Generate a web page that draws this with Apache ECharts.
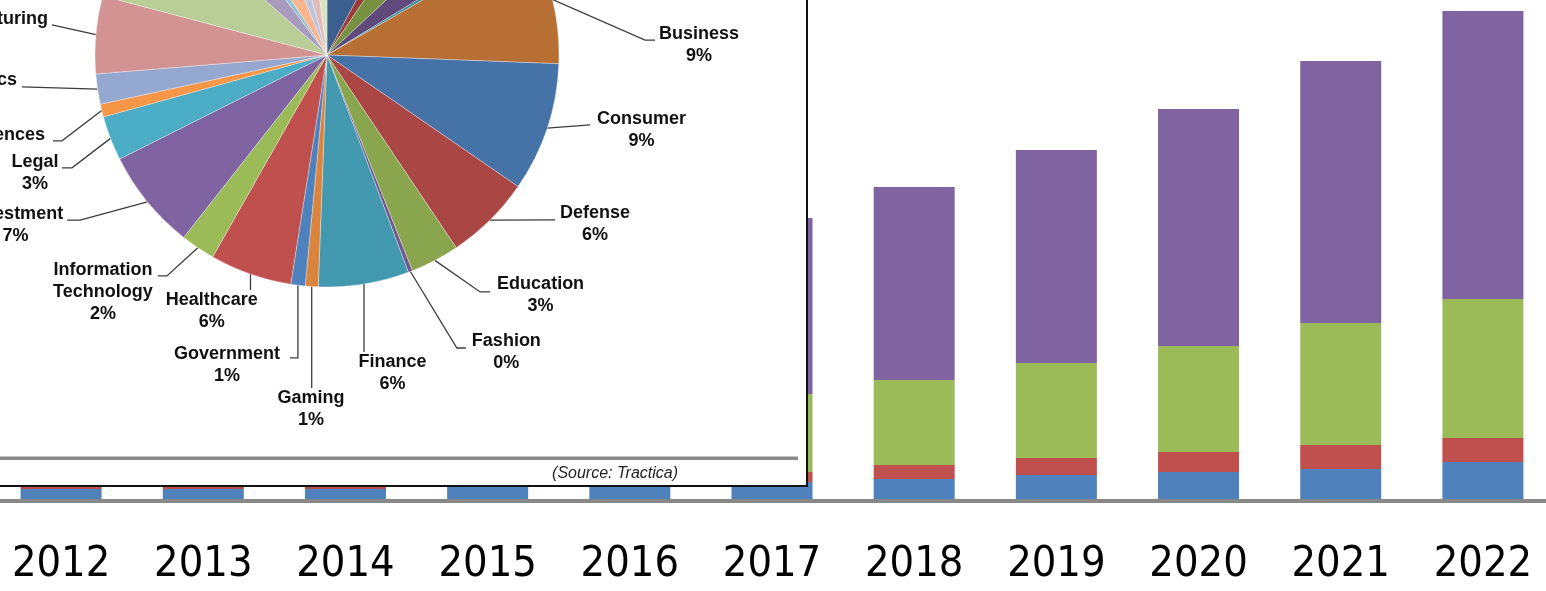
<!DOCTYPE html>
<html>
<head>
<meta charset="utf-8">
<script src="https://cdn.jsdelivr.net/npm/echarts@6.0.0/dist/echarts.min.js"></script>
<style>
  html, body { margin: 0; padding: 0; background: #ffffff; overflow: hidden; width: 1546px; height: 591px; }
  /* the plot runs slightly past both window edges, as the first and last bars do */
  #chart { width: 1564px; height: 591px; margin-left: -10px; }
</style>
</head>
<body>
<div id="chart"></div>
<script>
// ---- Stacked bars: yearly revenue, four stacked segments (bottom to top) ----
const YEARS = ['2012', '2013', '2014', '2015', '2016', '2017', '2018', '2019', '2020', '2021', '2022'];
const SEG_BLUE   = [120, 120, 120, 160, 175, 190, 220, 260, 290, 320, 390];
const SEG_RED    = [50, 55, 60, 70, 85, 100, 140, 170, 200, 240, 240];
const SEG_GREEN  = [150, 200, 280, 400, 560, 780, 850, 950, 1060, 1220, 1390];
const SEG_PURPLE = [400, 550, 750, 1000, 1350, 1760, 1930, 2130, 2370, 2620, 2880];

// ---- Pie: share of revenue by industry (%), clockwise from 12 o'clock ----
const SECTORS = [
  'Advertising', 'Aerospace', 'Agriculture', 'Automotive', 'Banking',
  'Business', 'Consumer', 'Defense', 'Education', 'Fashion', 'Finance',
  'Gaming', 'Government', 'Healthcare', 'Information Technology', 'Investment',
  'Legal', 'Life Sciences', 'Logistics', 'Manufacturing',
  'Media', 'Oil & Gas', 'Public Safety', 'Retail', 'Telecommunications',
  'Transportation', 'Utilities'
];
const SHARES = [
  7.8, 1.7, 3.6, 3.2, 0.4,
  8.9, 9.0, 6.0, 3.4, 0.3, 6.3,
  0.9, 1.0, 5.7, 2.4, 7.0,
  3.1, 0.9, 2.1, 5.4,
  7.45, 3.25, 1.05, 3.1, 1.8,
  2.2, 2.05
];

// Slice colours (same order as SECTORS)
const SLICE_COLORS = [
  '#3b5f8f', '#9a3d3a', '#76913f', '#604a7b', '#3a8aa0',
  '#b86f33', '#4572a7', '#aa4643', '#89a54e', '#71588f', '#4198af',
  '#db843d', '#4f81bd', '#c0504d', '#9bbb59', '#8064a2',
  '#4bacc6', '#f79646', '#95a9d0', '#d29392',
  '#b9cd96', '#a99bbd', '#91c3d5', '#f9b58f', '#b8c6e1',
  '#e1bcbb', '#d7e4bd'
];

// Leader-line bends and label-block centres, relative to the point where
// the leader leaves the slice edge (labels not listed fall outside the view).
const LABEL_SPOTS = {
  'Business':               { line: [[92.8, 40.7], [102.8, 40.7]],   text: [146.8, 45.7] },
  'Consumer':               { line: [[42.9, -3.2]],                  text: [94.4, 1.8] },
  'Defense':                { line: [[65.1, -0.2]],                  text: [105.1, 4.3] },
  'Education':              { line: [[45.2, 31.6], [55.2, 31.6]],    text: [105.7, 34.6] },
  'Fashion':                { line: [[46.5, 76.5], [55.5, 76.5]],    text: [96, 80.5] },
  'Finance':                { line: [[0, 68]],                       text: [28.4, 89] },
  'Gaming':                 { line: [[0, 101.5]],                    text: [-0.6, 122.5] },
  'Government':             { line: [[0, 72.8], [-8, 72.8]],         text: [-70.9, 79.8] },
  'Healthcare':             { line: [[0, 16]],                       text: [-38.8, 37] },
  'Information Technology': { line: [[-30.9, 28.2], [-39.9, 28.2]],  text: [-94.9, 44.2] },
  'Investment':             { line: [[-67.2, 18.4], [-80.2, 18.4]],  text: [-131.7, 23.4] },
  'Legal':                  { line: [[-38.5, 29.5], [-48.5, 29.5]],  text: [-75.5, 34.5] },
  'Life Sciences':          { line: [[-39.8, 30.3], [-48.8, 30.3]],  text: [-114.3, 35.3] },
  'Logistics':              { line: [[-75.5, -2.3]],                 text: [-120, 1.7] },
  'Manufacturing':          { line: [[-43.9, -9.8]],                 text: [-109.9, -4.8] }
};

const BAR_COLORS = ['#4f81bd', '#c0504d', '#9bbb59', '#8064a2'];

function barSeries(name, values, color) {
  return {
    name: name,
    type: 'bar',
    stack: 'revenue',
    data: values,
    barWidth: 81,
    itemStyle: { color: color },
    z: 2
  };
}

function sliceLabel(p) {
  const lines = p.name.length > 16 ? p.name.split(' ') : [p.name];
  return lines.map(function (s) { return '{n|' + s + '}'; }).join('\n') +
    '\n{v|' + Math.round(p.percent) + '%}';
}

const pieData = SECTORS.map(function (name, i) {
  const labelled = Object.prototype.hasOwnProperty.call(LABEL_SPOTS, name);
  return {
    name: name,
    value: SHARES[i],
    itemStyle: { color: SLICE_COLORS[i] },
    label: { show: labelled },
    labelLine: { show: labelled }
  };
});

const chart = echarts.init(document.getElementById('chart'), null, { renderer: 'canvas' });

const labelFont = '"Liberation Sans", Arial, sans-serif';

chart.setOption({
  animation: false,
  backgroundColor: '#ffffff',
  grid: { left: 0, right: 0, top: 1, bottom: 90, containLabel: false, outerBoundsMode: 'none' },
  xAxis: {
    type: 'category',
    data: YEARS,
    z: 3,
    axisLine: { show: true, lineStyle: { color: '#888888', width: 4 } },
    axisTick: { show: false },
    splitLine: { show: false },
    axisLabel: {
      margin: 42,
      color: '#000000',
      fontSize: 43,
      fontFamily: '"Liberation Sans Narrow", "DejaVu Sans Condensed", sans-serif'
    }
  },
  yAxis: {
    type: 'value',
    min: 0,
    max: 5000,
    show: false,
    splitLine: { show: false }
  },
  graphic: [
    {
      type: 'rect',
      z: 100,
      shape: { x: 0, y: -10, width: 817, height: 496 },
      style: { fill: '#ffffff', stroke: '#111111', lineWidth: 2 }
    },
    {
      type: 'line',
      z: 101,
      shape: { x1: 0, y1: 458.3, x2: 808, y2: 458.3 },
      style: { stroke: '#8a8a8a', lineWidth: 3.5 }
    },
    {
      type: 'text',
      z: 101,
      x: 688,
      y: 473.5,
      style: {
        text: '(Source: Tractica)',
        font: 'italic 16px "Liberation Sans", Arial, sans-serif',
        fill: '#222222',
        align: 'right',
        verticalAlign: 'middle'
      }
    }
  ],
  series: [
    barSeries('Segment 1', SEG_BLUE, BAR_COLORS[0]),
    barSeries('Segment 2', SEG_RED, BAR_COLORS[1]),
    barSeries('Segment 3', SEG_GREEN, BAR_COLORS[2]),
    barSeries('Segment 4', SEG_PURPLE, BAR_COLORS[3]),
    {
      type: 'pie',
      z: 110,
      center: [337, 55],
      radius: 232,
      startAngle: 90,
      clockwise: true,
      avoidLabelOverlap: false,
      emphasis: { disabled: true },
      itemStyle: { borderColor: 'rgba(255,255,255,0.55)', borderWidth: 0.6 },
      data: pieData,
      label: {
        position: 'outside',
        formatter: sliceLabel,
        color: '#111111',
        rich: {
          n: { fontFamily: labelFont, fontWeight: 'bold', fontSize: 18, lineHeight: 22, align: 'center', color: '#111111' },
          v: { fontFamily: labelFont, fontWeight: 'bold', fontSize: 18, lineHeight: 22, align: 'center', color: '#111111' }
        }
      },
      labelLine: {
        length: 10,
        length2: 10,
        lineStyle: { color: '#3c3c3c', width: 1.3 }
      },
      labelLayout: function (p) {
        const spot = LABEL_SPOTS[SECTORS[p.dataIndex]];
        if (!spot || !p.labelLinePoints || !p.labelLinePoints.length) { return {}; }
        const x0 = p.labelLinePoints[0][0];
        const y0 = p.labelLinePoints[0][1];
        const pts = [[x0, y0]].concat(spot.line.map(function (d) { return [x0 + d[0], y0 + d[1]]; }));
        return {
          x: x0 + spot.text[0],
          y: y0 + spot.text[1],
          align: 'center',
          verticalAlign: 'middle',
          labelLinePoints: pts
        };
      }
    }
  ]
});
</script>
</body>
</html>
